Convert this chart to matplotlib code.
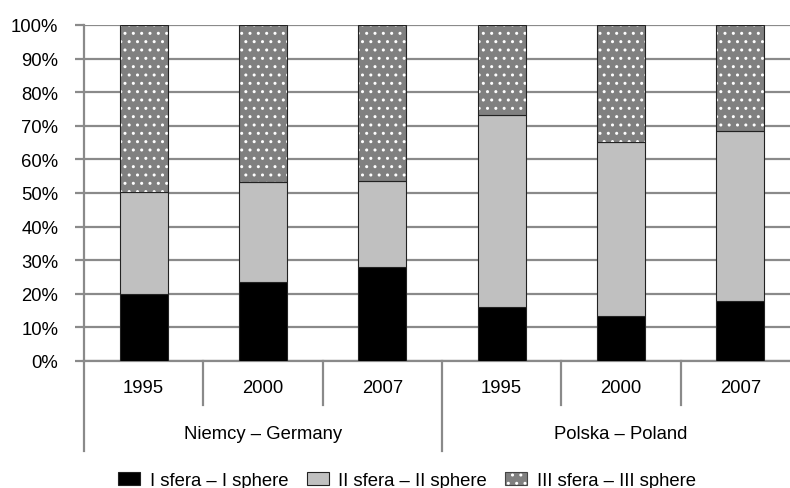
import matplotlib.pyplot as plt
import numpy as np
from matplotlib.patches import Patch

plt.rcParams['font.family'] = ['Liberation Sans', 'DejaVu Sans']

years = ["1995", "2000", "2007", "1995", "2000", "2007"]
groups = ["Niemcy – Germany", "Polska – Poland"]
sphere1 = [20.0, 23.5, 28.0, 16.2, 13.4, 17.9]
sphere2 = [30.2, 29.8, 25.6, 56.9, 51.9, 50.7]
sphere3 = [49.8, 46.7, 46.4, 26.9, 34.7, 31.4]
labels = ["I sfera – I sphere", "II sfera – II sphere", "III sfera – III sphere"]

font_size = 13.3
grid_c = '#8a8a8a'

fig = plt.figure(figsize=(7.9, 4.89), dpi=100)
# axes runs past the right edge, like the cropped original
ax = fig.add_axes([84/790, 127/489, 716/790, 336/489])

x = np.arange(len(years))
w = 0.40
s1 = np.array(sphere1)
s2 = np.array(sphere2)
s3 = np.array(sphere3)

ax.bar(x, s1, w, color='black', edgecolor='#222222', linewidth=0.8, zorder=3)
ax.bar(x, s2, w, bottom=s1, color='#c0c0c0', edgecolor='#222222', linewidth=0.8, zorder=3)
ax.bar(x, s3, w, bottom=s1+s2, color='#808080', edgecolor='white', hatch='..', linewidth=0, zorder=3)
ax.bar(x, s3, w, bottom=s1+s2, fill=False, edgecolor='#222222', linewidth=0.8, zorder=4)

ax.set_xlim(-0.5, 5.5)
ax.set_ylim(0, 100)
ax.set_yticks(np.arange(0, 101, 10))
ax.set_yticklabels([f"{v}%" for v in range(0, 101, 10)], fontsize=font_size)
ax.set_xticks([])
ax.grid(axis='y', color=grid_c, lw=1.6, zorder=0)
ax.tick_params(axis='y', length=6.5, width=1.6, color=grid_c, direction='out', pad=12)

for sp in ['top', 'right']:
	ax.spines[sp].set_visible(False)
for sp in ['left', 'bottom']:
	ax.spines[sp].set_color(grid_c)
	ax.spines[sp].set_linewidth(1.6)

tr = ax.get_xaxis_transform()
# separators under the axis
for k in range(len(years) + 1):
	xs = k - 0.5
	if k % 3 == 0:
		ax.plot([xs, xs], [0, -0.267], color=grid_c, lw=1.6, transform=tr, clip_on=False)
	else:
		ax.plot([xs, xs], [0, -0.132], color=grid_c, lw=1.6, transform=tr, clip_on=False)

for i, y in enumerate(years):
	ax.text(i, -0.08, y, transform=tr, ha='center', va='center', fontsize=font_size)
for g, name in enumerate(groups):
	ax.text(g*3 + 1, -0.215, name, transform=tr, ha='center', va='center', fontsize=font_size)

handles = [Patch(facecolor='black', edgecolor='#222222', linewidth=0.8),
	Patch(facecolor='#c0c0c0', edgecolor='#222222', linewidth=0.8),
	(Patch(facecolor='#808080', edgecolor='white', hatch='..', linewidth=0),
	 Patch(fill=False, edgecolor='#444444', linewidth=0.8))]
ax.legend(handles, labels, loc='center', bbox_to_anchor=(0.451, -0.355), ncol=3, frameon=False,
	prop=dict(size=font_size), handlelength=1.2, handleheight=0.7, columnspacing=1.0, handletextpad=0.5)

plt.savefig("out.png", dpi=100)
